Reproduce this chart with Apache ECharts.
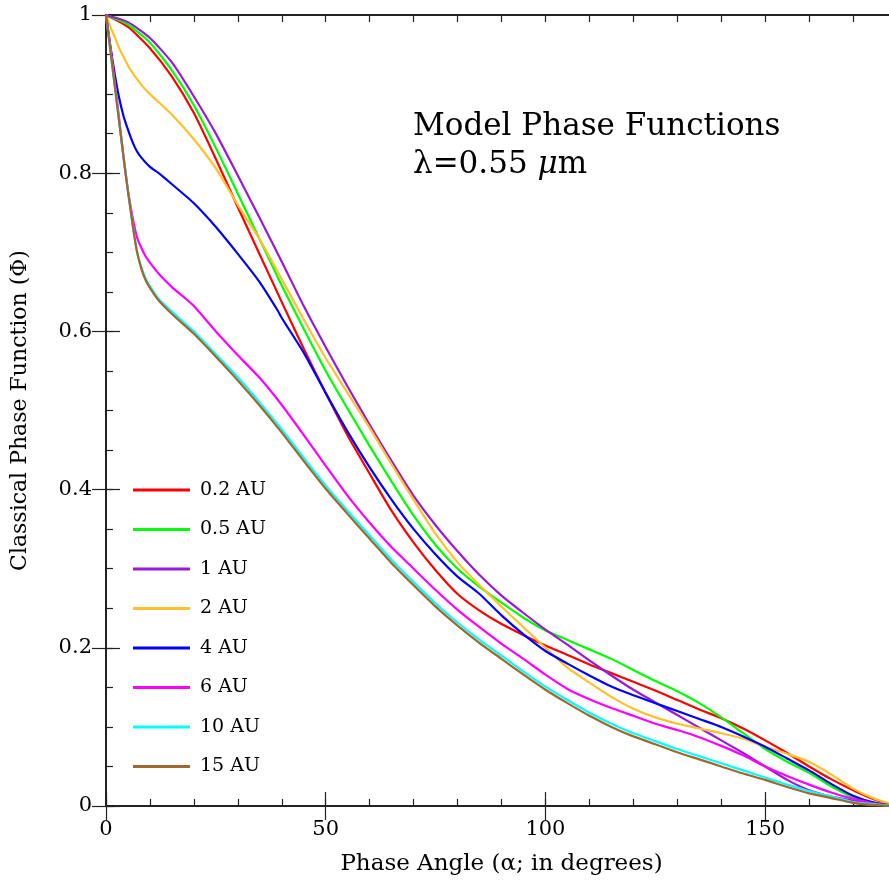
<!DOCTYPE html>
<html>
<head>
<meta charset="utf-8">
<script src="https://cdn.jsdelivr.net/npm/echarts@6/dist/echarts.min.js"></script>
<style>html,body{margin:0;padding:0;background:#fff}#c{width:889px;height:882px}</style>
</head>
<body>
<div id="c"></div>
<script>
// ---- data (phase angle in degrees, classical phase function) ----
const seriesNames = ['0.2 AU', '0.5 AU', '1 AU', '2 AU', '4 AU', '6 AU', '10 AU', '15 AU'];
const seriesColors = ['#ff0000', '#00ff00', '#9a1ad6', '#ffc02a', '#0000ff', '#ff00ff', '#00ffff', '#a0682d'];

const angStd = [0,5,10,15,20,25,30,35,40,45,50,55,60,65,70,75,80,85,90,95,100,105,110,115,120,125,130,135,140,145,150,155,160,165,170,175,180];
const red02 = [1,0.985,0.958,0.922,0.876,0.818,0.757,0.697,0.637,0.578,0.522,0.468,0.42,0.373,0.333,0.298,0.268,0.247,0.23,0.216,0.203,0.191,0.179,0.168,0.157,0.146,0.134,0.122,0.111,0.098,0.083,0.067,0.05,0.034,0.02,0.008,0];
const green05 = [1,0.988,0.965,0.93,0.886,0.832,0.774,0.716,0.658,0.603,0.55,0.502,0.455,0.41,0.367,0.33,0.3,0.277,0.257,0.238,0.222,0.21,0.198,0.186,0.172,0.158,0.145,0.13,0.112,0.092,0.072,0.056,0.042,0.025,0.011,0.004,0];
const purple1 = [1,0.991,0.971,0.94,0.897,0.85,0.797,0.743,0.688,0.632,0.58,0.53,0.482,0.436,0.392,0.355,0.322,0.292,0.266,0.244,0.223,0.204,0.184,0.165,0.147,0.131,0.115,0.099,0.083,0.067,0.05,0.033,0.02,0.012,0.007,0.003,0];

const angOrange = [0,1,2,3,4,5,6,8,10,15,20,25,30,35,40,45,50,55,60,65,70,75,80,85,90,95,100,105,110,115,120,125,130,135,140,145,150,155,160,165,170,175,180];
const orange2 = [1,0.985,0.972,0.958,0.947,0.936,0.927,0.912,0.9,0.874,0.843,0.806,0.76,0.716,0.666,0.615,0.566,0.522,0.478,0.432,0.387,0.344,0.308,0.279,0.252,0.226,0.2,0.175,0.156,0.138,0.123,0.112,0.104,0.098,0.092,0.085,0.075,0.066,0.056,0.04,0.022,0.009,0];

const angBlue = [0,1,2,3,4,5,6,7,8,10,12,15,20,25,30,35,39,40,45,50,55,60,65,70,75,80,85,90,95,100,105,110,115,120,125,130,135,140,145,150,155,160,165,170,175,180];
const blue4 = [1,0.96,0.925,0.895,0.872,0.855,0.84,0.828,0.82,0.808,0.8,0.786,0.762,0.732,0.698,0.662,0.627,0.617,0.573,0.522,0.473,0.428,0.387,0.35,0.318,0.29,0.268,0.241,0.217,0.196,0.18,0.165,0.151,0.14,0.13,0.12,0.11,0.1,0.088,0.075,0.06,0.045,0.028,0.013,0.004,0];

const angMagenta = [0,1,2,3,4,5,6,7,8,9,10,12,15,18,20,25,30,35,40,45,50,55,60,65,70,75,80,85,90,95,100,105,110,115,120,125,130,135,140,145,150,155,160,165,170,175,180];
const magenta6 = [1,0.96,0.915,0.868,0.82,0.778,0.746,0.72,0.706,0.695,0.687,0.673,0.656,0.642,0.632,0.6,0.57,0.541,0.507,0.469,0.43,0.392,0.358,0.327,0.3,0.273,0.248,0.226,0.205,0.186,0.166,0.148,0.135,0.124,0.114,0.104,0.096,0.087,0.076,0.064,0.05,0.038,0.027,0.017,0.009,0.003,0];

const angDust = [0,1,2,3,4,5,6,7,8,9,10,12,15,20,25,30,35,40,45,50,55,60,65,70,75,80,85,90,95,100,105,110,115,120,125,130,135,140,145,150,155,160,165,170,175,180];
const cyan10 = [1,0.955,0.91,0.865,0.82,0.778,0.738,0.703,0.682,0.667,0.657,0.641,0.625,0.6,0.571,0.542,0.51,0.476,0.44,0.405,0.373,0.342,0.311,0.283,0.256,0.232,0.21,0.19,0.17,0.151,0.134,0.118,0.104,0.092,0.082,0.072,0.063,0.054,0.045,0.036,0.027,0.019,0.012,0.005,0.002,0];
const brown15 = [1,0.955,0.91,0.865,0.82,0.777,0.737,0.702,0.68,0.665,0.655,0.639,0.622,0.597,0.568,0.538,0.506,0.472,0.436,0.401,0.369,0.338,0.307,0.279,0.252,0.228,0.206,0.186,0.166,0.147,0.13,0.114,0.1,0.088,0.078,0.068,0.059,0.05,0.041,0.033,0.024,0.016,0.01,0.004,0.001,0];

const curveAngles = [angStd, angStd, angStd, angOrange, angBlue, angMagenta, angDust, angDust];
const curveValues = [red02, green05, purple1, orange2, blue4, magenta6, cyan10, brown15];

const xMajorTicks = [0, 50, 100, 150];

// ---- chart ----
const FONT = 'DejaVu Serif';
const chart = echarts.init(document.getElementById('c'), null, {renderer: 'canvas'});

const axisLineStyle = {color: '#222', width: 2};
const tickStyle = {color: '#222', width: 1.2};

function xAx(pos, interval, len, opts) {
  return Object.assign({
    type: 'value', gridIndex: 0, position: pos, min: 0, max: 180, interval: interval,
    axisLine: {show: true, onZero: false, lineStyle: axisLineStyle},
    axisTick: {show: true, inside: true, length: len, lineStyle: tickStyle},
    axisLabel: {show: false}, splitLine: {show: false}
  }, opts || {});
}
function yAx(pos, interval, len, opts) {
  return Object.assign({
    type: 'value', gridIndex: 0, position: pos, min: 0, max: 1, interval: interval,
    axisLine: {show: true, onZero: false, lineStyle: axisLineStyle},
    axisTick: {show: true, inside: true, length: len, lineStyle: tickStyle},
    axisLabel: {show: false}, splitLine: {show: false}
  }, opts || {});
}

const series = seriesNames.map((name, i) => ({
  name: name,
  type: 'line',
  xAxisIndex: 0,
  yAxisIndex: 0,
  data: curveAngles[i].map((a, k) => [a, curveValues[i][k]]),
  showSymbol: false,
  symbol: 'none',
  smooth: 0.2,
  lineStyle: {color: seriesColors[i], width: 2.2},
  itemStyle: {color: seriesColors[i]},
  emphasis: {disabled: true},
  z: 2 + i
}));

chart.setOption({
  animation: false,
  backgroundColor: '#fff',
  grid: {left: 106, top: 15, width: 791, height: 791, containLabel: false, outerBoundsMode: 'none'},
  xAxis: [
    xAx('bottom', 10, 7),
    xAx('bottom', 50, 14, {
      axisLine: {show: false},
      axisLabel: {show: true, margin: 13, fontSize: 21, fontFamily: FONT, color: '#000',
        formatter: v => (xMajorTicks.indexOf(v) >= 0 ? String(v) : '')},
      name: 'Phase Angle (\u03b1; in degrees)', nameLocation: 'middle', nameGap: 47,
      nameTextStyle: {fontSize: 23, fontFamily: FONT, color: '#000'}
    }),
    xAx('top', 10, 7),
    xAx('top', 50, 14, {axisLine: {show: false}})
  ],
  yAxis: [
    yAx('left', 0.05, 7),
    yAx('left', 0.2, 14, {
      axisLine: {show: false},
      axisLabel: {show: true, margin: 14, fontSize: 21, fontFamily: FONT, color: '#000'},
      name: 'Classical Phase Function (\u03a6)', nameLocation: 'middle', nameGap: 75,
      nameTextStyle: {fontSize: 22, fontFamily: FONT, color: '#000'}
    }),
    yAx('right', 0.05, 7),
    yAx('right', 0.2, 14, {axisLine: {show: false}})
  ],
  legend: {
    orient: 'vertical', left: 128, top: 475,
    icon: 'rect', itemWidth: 57, itemHeight: 3, itemGap: 19.5,
    textStyle: {fontSize: 19, fontFamily: FONT, color: '#000', lineHeight: 20, padding: [0, 0, 0, 5]},
    data: seriesNames,
    selectedMode: false
  },
  graphic: [
    {type: 'text', left: 413, top: 111, style: {text: 'Model Phase Functions', font: '31px "DejaVu Serif"', fill: '#000'}},
    {type: 'text', left: 413, top: 149, style: {
      text: '{a|\u03bb=0.55 }{i|\u03bc}{a|m}',
      rich: {
        a: {fontSize: 31, fontFamily: FONT, fill: '#000'},
        i: {fontSize: 31, fontFamily: FONT, fontStyle: 'italic', fill: '#000'}
      }
    }}
  ],
  series: series
});
</script>
</body>
</html>
